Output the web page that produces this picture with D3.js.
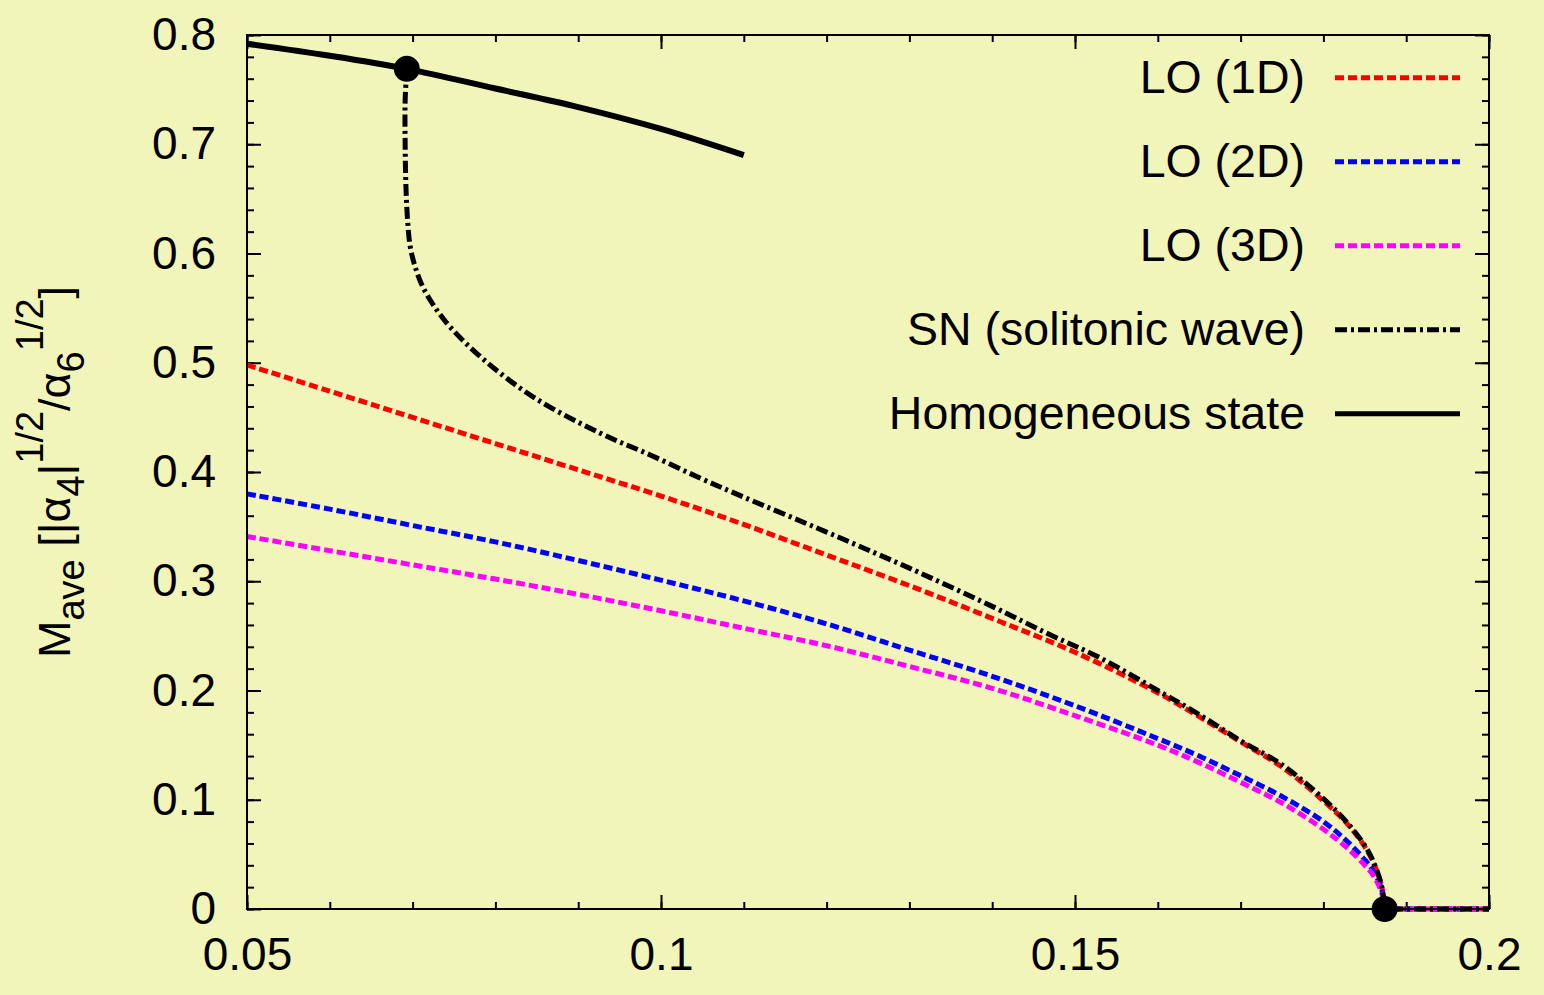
<!DOCTYPE html>
<html>
<head>
<meta charset="utf-8">
<script src="https://cdn.jsdelivr.net/npm/d3@7"></script>
<style>
    body { margin: 0; background: #f2f5b9; }
    svg { display: block; font-family: "Liberation Sans", Arial, sans-serif; }
</style>
</head>
<body>
<svg id="chart" width="1544" height="995"></svg>
<script>
// values: [x, Mave]
const lo1d = [[0.05,0.498],[0.06,0.474],[0.07,0.450],[0.08,0.426],[0.09,0.402],[0.1,0.378],[0.11,0.352],
    [0.12,0.324],[0.13,0.296],[0.14,0.266],[0.15,0.235],[0.16,0.198],[0.165,0.176],[0.17,0.153],
    [0.175,0.130],[0.18,0.099],[0.183,0.077],[0.185,0.057],[0.186,0.043],[0.187,0.022],[0.1874,0],[0.2,0]];
const lo2d = [[0.05,0.380],[0.06,0.366],[0.07,0.351],[0.08,0.336],[0.09,0.319],[0.1,0.301],[0.11,0.282],
    [0.12,0.261],[0.13,0.237],[0.14,0.213],[0.15,0.186],[0.16,0.156],[0.165,0.140],[0.17,0.122],
    [0.175,0.103],[0.18,0.080],[0.183,0.061],[0.185,0.045],[0.186,0.035],[0.187,0.019],[0.1874,0],[0.2,0]];
const lo3d = [[0.05,0.341],[0.06,0.328],[0.07,0.315],[0.08,0.302],[0.09,0.288],[0.1,0.273],[0.11,0.257],
    [0.12,0.241],[0.13,0.222],[0.14,0.202],[0.15,0.177],[0.16,0.150],[0.165,0.134],[0.17,0.116],
    [0.175,0.097],[0.18,0.073],[0.183,0.055],[0.185,0.040],[0.186,0.031],[0.187,0.016],[0.1874,0],[0.2,0]];
const solitonic = [[0.0693,0.769],[0.0691,0.74],[0.0691,0.70],[0.0692,0.66],[0.0694,0.63],[0.0697,0.607],
    [0.0703,0.588],[0.0712,0.570],[0.0725,0.553],[0.0745,0.533],[0.0785,0.5035],[0.0845,0.469],
    [0.0926,0.4357],[0.0987,0.4156],[0.1047,0.3945],[0.11,0.377],[0.12,0.345],[0.1258,0.326],[0.13,0.312],
    [0.14,0.277],[0.147,0.251],[0.153,0.230],[0.16,0.200],[0.165,0.178],[0.17,0.154],[0.175,0.132],
    [0.18,0.101],[0.183,0.078],[0.185,0.058],[0.186,0.044],[0.187,0.022],[0.1874,0],[0.2,0]];
const homogeneous = [[0.05,0.792],[0.06,0.781],[0.0693,0.769],[0.08,0.751],[0.09,0.734],[0.1,0.714],[0.11,0.690]];
const transitionPoints = [[0.0693,0.769],[0.1874,0]];

const seriesNames = ['LO (1D)', 'LO (2D)', 'LO (3D)', 'SN (solitonic wave)', 'Homogeneous state'];
const xTickLabels = [0.05, 0.1, 0.15, 0.2];
const yTickLabels = [0, 0.1, 0.2, 0.3, 0.4, 0.5, 0.6, 0.7, 0.8];
const xMinorTicks = d3.range(0.05, 0.2001, 0.01);
const yMinorTicks = d3.range(0, 0.8001, 0.02);

var svg = d3.select('#chart');
var plotLeft = 247, plotRight = 1489, plotTop = 35, plotBottom = 909;
var fontSize = 46;

svg.append('rect').attr('width', 1544).attr('height', 995).attr('fill', '#f2f5b9');

var x = d3.scaleLinear().domain([0.05, 0.2]).range([plotLeft, plotRight]);
var y = d3.scaleLinear().domain([0, 0.8]).range([plotBottom, plotTop]);

// ticks on all four sides, pointing in
function drawTicks(axisFn, scale, values, len, pos, withLabels, fmt){
    var axis = axisFn(scale).tickValues(values).tickSizeInner(-len).tickSizeOuter(0);
    if(withLabels){
        axis.tickFormat(fmt);
    } else {
        axis.tickFormat('');
    }
    var g = svg.append('g').attr('transform', pos).call(axis);
    g.select('.domain').remove();
    g.selectAll('line').attr('stroke', '#000').attr('stroke-width', 2);
    return g;
}

var xb = drawTicks(d3.axisBottom, x, xTickLabels, 14, 'translate(0,' + plotBottom + ')', true, d3.format('~g'));
xb.selectAll('.tick text').attr('font-size', fontSize).attr('fill', '#000').attr('y', 28);
drawTicks(d3.axisBottom, x, xMinorTicks, 7, 'translate(0,' + plotBottom + ')', false);
drawTicks(d3.axisTop, x, xTickLabels, 14, 'translate(0,' + plotTop + ')', false);
drawTicks(d3.axisTop, x, xMinorTicks, 7, 'translate(0,' + plotTop + ')', false);

var yl = drawTicks(d3.axisLeft, y, yTickLabels, 14, 'translate(' + plotLeft + ',0)', true, d3.format('~g'));
yl.selectAll('.tick text').attr('font-size', fontSize).attr('fill', '#000').attr('x', -31);
drawTicks(d3.axisLeft, y, yMinorTicks, 7, 'translate(' + plotLeft + ',0)', false);
drawTicks(d3.axisRight, y, yTickLabels, 14, 'translate(' + plotRight + ',0)', false);
drawTicks(d3.axisRight, y, yMinorTicks, 7, 'translate(' + plotRight + ',0)', false);

// curves: smooth part up to the first zero, straight along M = 0 after it
var smooth = d3.line()
    .x(function(d){ return x(d[0]); })
    .y(function(d){ return y(d[1]); })
    .curve(d3.curveCatmullRom.alpha(0.5));
var straight = d3.line()
    .x(function(d){ return x(d[0]); })
    .y(function(d){ return y(d[1]); });

function curvePath(data){
    var cut = data.findIndex(function(d){ return d[1] === 0; });
    if(cut < 0){
        return smooth(data);
    }
    return smooth(data.slice(0, cut + 1)) + straight(data.slice(cut)).replace('M', 'L');
}

var styles = [
    {data: lo1d, color: '#ff0000', dash: '9,4', width: 5},
    {data: lo2d, color: '#0000ff', dash: '9,4', width: 5},
    {data: lo3d, color: '#ff00ff', dash: '9,4', width: 5},
    {data: solitonic, color: '#000', dash: '12,4,3,4', width: 5},
    {data: homogeneous, color: '#000', dash: null, width: 6}
];

styles.forEach(function(s){
    svg.append('path')
        .attr('d', curvePath(s.data))
        .attr('fill', 'none')
        .attr('stroke', s.color)
        .attr('stroke-width', s.width)
        .attr('stroke-dasharray', s.dash);
});

svg.selectAll('circle.pt')
    .data(transitionPoints)
    .enter()
    .append('circle')
    .attr('cx', function(d){ return x(d[0]); })
    .attr('cy', function(d){ return y(d[1]); })
    .attr('r', 13)
    .attr('fill', '#000');

// frame
svg.append('rect')
    .attr('x', plotLeft).attr('y', plotTop)
    .attr('width', plotRight - plotLeft).attr('height', plotBottom - plotTop)
    .attr('fill', 'none').attr('stroke', '#000').attr('stroke-width', 2);

// legend
var legend = svg.append('g');
seriesNames.forEach(function(name, i){
    var ly = 77.7 + i * 84;
    legend.append('text')
        .attr('x', 1305).attr('y', ly + 15.5)
        .attr('text-anchor', 'end')
        .attr('font-size', 46.5)
        .text(name);
    legend.append('line')
        .attr('x1', 1335).attr('x2', 1460)
        .attr('y1', ly).attr('y2', ly)
        .attr('stroke', styles[i].color)
        .attr('stroke-width', i === 4 ? 5 : styles[i].width)
        .attr('stroke-dasharray', styles[i].dash);
});

// y axis label: M_ave [|α_4|^{1/2}/α_6^{1/2}]
var script = 38;
var label = svg.append('text')
    .attr('transform', 'translate(70,472) rotate(-90)')
    .attr('text-anchor', 'middle')
    .attr('font-size', 45);
var parts = [
    {t: 'M', s: 45, dy: 0},
    {t: 'ave', s: script, dy: 14},
    {t: ' [|\u03b1', s: 45, dy: -14},
    {t: '4', s: script, dy: 14},
    {t: '|', s: 45, dy: -14},
    {t: '1/2', s: script, dy: -27},
    {t: '/\u03b1', s: 45, dy: 27},
    {t: '6', s: script, dy: 14},
    {t: '1/2', s: script, dy: -41},
    {t: ']', s: 45, dy: 27}
];
parts.forEach(function(p){
    label.append('tspan').attr('font-size', p.s).attr('dy', p.dy).text(p.t);
});
</script>
</body>
</html>
